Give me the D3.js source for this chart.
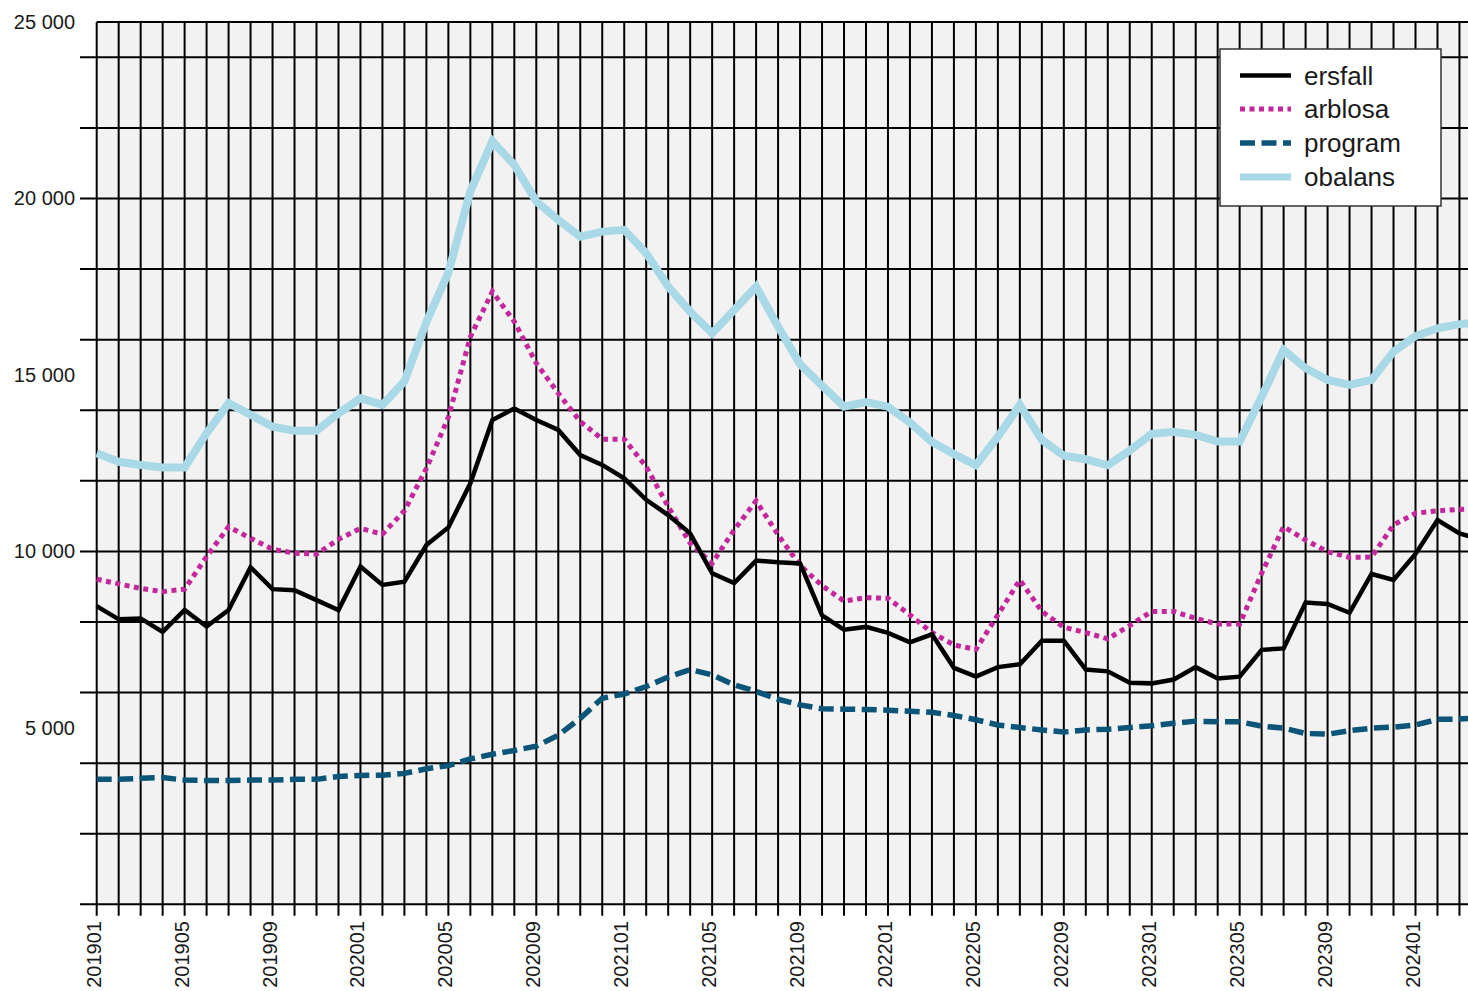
<!DOCTYPE html>
<html>
<head>
<meta charset="utf-8">
<script src="https://cdn.jsdelivr.net/npm/d3@7"></script>
<style>
  html, body { margin: 0; padding: 0; background: #ffffff; }
  svg { display: block; }
  text { font-family: "Liberation Sans", Arial, sans-serif; fill: #1a1a1a; }
</style>
</head>
<body>
<svg id="chart" width="1468" height="991"></svg>
<script>
const months = ["201901","201902","201903","201904","201905","201906","201907","201908","201909","201910","201911","201912",
  "202001","202002","202003","202004","202005","202006","202007","202008","202009","202010","202011","202012",
  "202101","202102","202103","202104","202105","202106","202107","202108","202109","202110","202111","202112",
  "202201","202202","202203","202204","202205","202206","202207","202208","202209","202210","202211","202212",
  "202301","202302","202303","202304","202305","202306","202307","202308","202309","202310","202311","202312",
  "202401","202402","202403","202404"];

const tickLabels = ["201901","201905","201909","202001","202005","202009","202101","202105","202109",
  "202201","202205","202209","202301","202305","202309","202401"];

const yLabelValues = [5000, 10000, 15000, 20000, 25000];
const yGridValues = [0,2000,4000,6000,8000,10000,12000,14000,16000,18000,20000,22000,24000];

const ersfall = [8450,8075,8100,7720,8340,7870,8340,9550,8930,8900,8620,8340,
  9570,9050,9140,10180,10680,11930,13720,14050,13720,13440,12730,12450,
  12070,11460,11030,10510,9380,9100,9740,9690,9660,8190,7780,7860,
  7690,7420,7650,6700,6450,6720,6800,7470,7470,6650,6600,6280,
  6260,6370,6720,6400,6450,7210,7250,8550,8510,8260,9360,9190,
  9930,10890,10510,10330];

const arblosa = [9210,9080,8950,8860,8930,9850,10700,10370,10060,9950,9920,10340,
  10650,10490,11150,12350,13800,16080,17360,16510,15330,14480,13680,13180,
  13180,12400,11270,10230,9660,10610,11430,10470,9600,9030,8590,8690,
  8670,8200,7700,7350,7220,8200,9190,8300,7850,7700,7520,7900,
  8300,8300,8100,7940,7940,9380,10700,10320,9990,9830,9840,10750,
  11080,11150,11190,11220];

const program = [3540,3540,3570,3590,3520,3510,3510,3520,3520,3540,3540,3620,
  3650,3660,3710,3840,3930,4120,4250,4360,4480,4790,5270,5840,
  5960,6170,6440,6650,6500,6220,6030,5810,5650,5540,5530,5520,
  5500,5470,5440,5350,5230,5080,5010,4940,4880,4940,4960,5010,
  5060,5130,5190,5170,5170,5050,4990,4840,4820,4920,4990,5020,
  5080,5240,5250,5290];

const obalans = [12780,12540,12450,12380,12380,13350,14200,13870,13530,13420,13420,13910,
  14340,14150,14820,16500,17900,20200,21620,20950,19920,19390,18920,19060,
  19110,18450,17500,16790,16180,16840,17500,16370,15300,14700,14100,14230,
  14100,13650,13100,12760,12440,13250,14150,13160,12710,12610,12440,12860,
  13330,13390,13300,13110,13110,14380,15710,15190,14860,14720,14860,15660,
  16100,16320,16440,16490];

const seriesNames = ["ersfall","arblosa","program","obalans"];
const seriesValues = [ersfall, arblosa, program, obalans];
const seriesColors = ["#000000","#c4279c","#0b5579","#a9d8e6"];
const seriesWidths = [4.5, 5, 5.5, 8];
const seriesDash = [null, "5,4.5", "15,6.5", null];

const plotL = 96.7, plotT = 22, plotB = 904.3, plotR = 1468;
const step = 21.98;

const svg = d3.select("#chart");

const x = d3.scalePoint().domain(months).range([plotL, plotL + step * (months.length - 1)]);
const y = d3.scaleLinear().domain([0, 25000]).range([plotB, plotT]);

// plot background
svg.append("rect").attr("x", plotL).attr("y", plotT)
  .attr("width", plotR - plotL).attr("height", plotB - plotT).attr("fill", "#f2f2f2");

// horizontal grid (extending left as ticks)
svg.append("g").selectAll("line").data(yGridValues).join("line")
  .attr("x1", plotL - 16.7).attr("x2", plotR)
  .attr("y1", d => y(d)).attr("y2", d => y(d))
  .attr("stroke", "#000").attr("stroke-width", 2);

// top border
svg.append("line").attr("x1", plotL).attr("x2", plotR).attr("y1", y(25000)).attr("y2", y(25000))
  .attr("stroke", "#000").attr("stroke-width", 2);

// vertical grid (each month, extending below as ticks)
svg.append("g").selectAll("line").data(months.filter(m => x(m) <= plotR)).join("line")
  .attr("x1", d => x(d)).attr("x2", d => x(d))
  .attr("y1", plotT).attr("y2", plotB + 11.5)
  .attr("stroke", "#000").attr("stroke-width", 2);

// y labels
svg.append("g").selectAll("text").data(yLabelValues).join("text")
  .attr("x", 75).attr("y", d => y(d)).attr("dy", "0.35em")
  .attr("text-anchor", "end").attr("font-size", 20)
  .text(d => d3.format(",")(d).replace(/,/g, " "));

// x labels
svg.append("g").selectAll("text").data(tickLabels).join("text")
  .attr("transform", d => `translate(${x(d) - 3},921) rotate(-90)`)
  .attr("dy", "0.35em").attr("text-anchor", "end").attr("font-size", 20)
  .text(d => d);

// clip for lines
svg.append("defs").append("clipPath").attr("id", "plotclip")
  .append("rect").attr("x", plotL - 5).attr("y", plotT - 10).attr("width", plotR - plotL + 5).attr("height", plotB - plotT + 20);

const line = d3.line().x((d, i) => x(months[i])).y(d => y(d));

const lines = svg.append("g").attr("clip-path", "url(#plotclip)");
[3, 2, 1, 0].forEach(k => {
  lines.append("path")
    .datum(seriesValues[k])
    .attr("d", line)
    .attr("fill", "none")
    .attr("stroke", seriesColors[k])
    .attr("stroke-width", seriesWidths[k])
    .attr("stroke-linejoin", "miter")
    .attr("stroke-dasharray", seriesDash[k]);
});

// legend
const lg = svg.append("g");
lg.append("rect").attr("x", 1220).attr("y", 49).attr("width", 221).attr("height", 157)
  .attr("fill", "#ffffff").attr("stroke", "#333").attr("stroke-width", 1.5);
const rowsY = [75.5, 109, 143, 177];
seriesNames.forEach((name, k) => {
  lg.append("line").attr("x1", 1240).attr("x2", 1291)
    .attr("y1", rowsY[k]).attr("y2", rowsY[k])
    .attr("stroke", seriesColors[k]).attr("stroke-width", seriesWidths[k] === 8 ? 7 : seriesWidths[k])
    .attr("stroke-dasharray", seriesDash[k]);
  lg.append("text").attr("x", 1304).attr("y", rowsY[k]).attr("dy", "0.35em")
    .attr("font-size", 26).text(name);
});
</script>
</body>
</html>
